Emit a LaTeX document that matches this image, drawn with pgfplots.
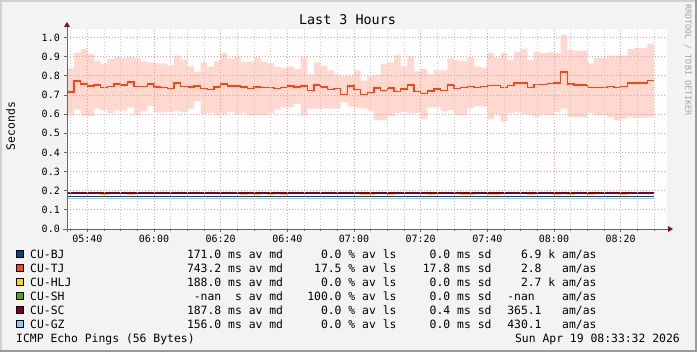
\documentclass[border=0pt]{standalone}
\usepackage{fontspec}
\setmainfont{DejaVu Sans}
\newfontfamily\mono{DejaVu Sans Mono}
\usepackage{pgfplots}
\pgfplotsset{compat=1.18}
\usepackage{pgfplotstable}

\definecolor{bjc}{HTML}{004586}
\definecolor{tjc}{HTML}{FF420E}
\definecolor{hljc}{HTML}{FFD320}
\definecolor{shc}{HTML}{579D1C}
\definecolor{scc}{HTML}{7E0021}
\definecolor{gzc}{HTML}{83CAFF}
\definecolor{smoke}{HTML}{FFD9CF}
\definecolor{bgc}{HTML}{F3F3F3}
\definecolor{frl}{HTML}{D0D0D0}
\definecolor{frd}{HTML}{9A9A9A}
\definecolor{mgrid}{HTML}{F09898}
\definecolor{ngrid}{HTML}{C8C8C8}
\definecolor{axc}{HTML}{666666}
\definecolor{arrc}{HTML}{8C1010}

\newcommand\lgf{\mono\fontsize{11.4bp}{13bp}\selectfont}
\newcommand\tkf{\mono\fontsize{10bp}{12bp}\selectfont}
\newcommand\amas{am/as}

\pgfplotstableread{
t med hi lo
33.9 0.715 0.839 0.593
36 0.772 0.918 0.623
38 0.758 0.939 0.591
40 0.747 0.914 0.591
42 0.753 0.877 0.628
44 0.739 0.863 0.619
46 0.744 0.888 0.605
48 0.756 0.898 0.618
50 0.753 0.895 0.618
52 0.767 0.898 0.635
54 0.744 0.893 0.593
56 0.744 0.875 0.614
58 0.756 0.870 0.642
60 0.742 0.865 0.609
62 0.739 0.865 0.609
64 0.733 0.854 0.611
66 0.761 0.905 0.616
68 0.744 0.884 0.609
70 0.740 0.849 0.628
72 0.747 0.819 0.668
74 0.733 0.870 0.600
76 0.728 0.846 0.605
78 0.740 0.877 0.596
80 0.758 0.918 0.600
82 0.747 0.888 0.611
84 0.747 0.902 0.600
86 0.742 0.870 0.607
88 0.733 0.874 0.593
90 0.742 0.898 0.596
92 0.739 0.874 0.596
94 0.739 0.865 0.605
96 0.733 0.846 0.623
98 0.739 0.842 0.635
100 0.747 0.849 0.635
102 0.742 0.835 0.653
104 0.747 0.902 0.593
106 0.723 0.807 0.628
108 0.753 0.870 0.628
110 0.742 0.851 0.628
112 0.728 0.828 0.628
114 0.733 0.807 0.628
116 0.702 0.798 0.661
118 0.747 0.800 0.639
120 0.728 0.828 0.632
122 0.702 0.775 0.628
124 0.712 0.802 0.618
126 0.737 0.802 0.568
128 0.723 0.860 0.568
130 0.737 0.870 0.588
132 0.718 0.907 0.605
134 0.732 0.849 0.611
136 0.753 0.902 0.602
138 0.718 0.823 0.607
140 0.707 0.835 0.572
142 0.721 0.807 0.635
144 0.732 0.828 0.635
146 0.723 0.828 0.614
148 0.753 0.891 0.621
150 0.733 0.881 0.593
152 0.739 0.877 0.596
154 0.744 0.896 0.630
156 0.739 0.849 0.642
158 0.744 0.842 0.639
160 0.749 0.918 0.575
162 0.749 0.895 0.600
164 0.739 0.918 0.561
166 0.749 0.882 0.605
168 0.763 0.923 0.609
170 0.763 0.939 0.600
172 0.739 0.882 0.596
174 0.754 0.923 0.586
176 0.754 0.918 0.596
178 0.760 0.923 0.595
180 0.763 0.918 0.611
182 0.821 1.015 0.628
184 0.758 0.935 0.584
186 0.753 0.930 0.584
188 0.753 0.930 0.584
190 0.739 0.865 0.605
192 0.739 0.893 0.593
194 0.739 0.893 0.593
196 0.744 0.905 0.584
198 0.739 0.905 0.567
200 0.744 0.905 0.575
202 0.763 0.939 0.584
204 0.763 0.944 0.579
206 0.763 0.944 0.581
208 0.775 0.965 0.586
210 0.775 0.965 0.586
}\tjdata

\pgfplotstableread{
t v
33.9 0.189
44 0.182
46 0.189
52 0.182
54 0.189
86 0.182
88 0.189
90 0.182
92 0.189
94 0.182
96 0.189
98 0.182
100 0.189
122 0.182
126 0.189
130 0.182
132 0.189
142 0.182
144 0.189
152 0.182
156 0.189
160 0.182
164 0.189
172 0.182
174 0.189
180 0.182
182 0.189
184 0.182
186 0.189
190 0.182
192 0.189
200 0.182
202 0.189
210 0.189
}\hljdata

\begin{document}
\begin{tikzpicture}
\useasboundingbox (0bp,0bp) rectangle (697bp,352bp);
\begin{scope}[x=1bp,y=1bp]
\fill[bgc] (0,0) rectangle (697,352);
\fill[frl] (0,0) rectangle (2,352);
\fill[frl] (0,350) rectangle (697,352);
\fill[frd] (0,0) rectangle (697,2);
\fill[frd] (695,0) rectangle (697,352);
\end{scope}

\begin{axis}[
  at={(67bp,123bp)}, anchor=south west,
  scale only axis, width=600bp, height=200bp,
  xmin=33.9, xmax=213.9, ymin=0, ymax=1.0444,
  axis on top,
  axis background/.style={fill=white},
  axis line style={draw=none},
  xtick={40,60,80,100,120,140,160,180,200},
  xticklabels={05:40,06:00,06:20,06:40,07:00,07:20,07:40,08:00,08:20},
  minor xtick={35,45,50,55,65,70,75,85,90,95,105,110,115,125,130,135,145,150,155,165,170,175,185,190,195,205,210},
  ytick={0,0.1,0.2,0.3,0.4,0.5,0.6,0.7,0.8,0.9,1.0},
  yticklabels={0.0,0.1,0.2,0.3,0.4,0.5,0.6,0.7,0.8,0.9,1.0},
  xmajorgrids, ymajorgrids, xminorgrids,
  major grid style={mgrid, line width=0.8bp, dash pattern=on 1bp off 2bp},
  minor grid style={ngrid, line width=0.8bp, dash pattern=on 1bp off 2bp},
  tick style={axc, line width=0.8bp},
  tick align=outside,
  major tick length=3bp, minor tick length=2bp,
  xtick pos=bottom, ytick pos=left,
  xticklabel style={font=\tkf, inner sep=0pt, anchor=north, yshift=-2.5bp},
  yticklabel style={font=\tkf, inner sep=0pt, anchor=east, xshift=-4bp},
]
\addplot[const plot, fill=smoke, draw=none] table[x=t,y=hi] {\tjdata} \closedcycle;
\addplot[const plot, fill=white, draw=none] table[x=t,y=lo] {\tjdata} \closedcycle;
\addplot[const plot, tjc, line width=1.6bp] table[x=t,y=med] {\tjdata};
\addplot[const plot, bjc, line width=1.1bp] coordinates {(33.9,0.170) (210,0.170)};
\addplot[const plot, hljc, line width=1.3bp] table[x=t,y=v] {\hljdata};
\addplot[const plot, scc, line width=1.8bp] coordinates {(33.9,0.1885) (210,0.1885)};
\addplot[const plot, gzc, line width=1.1bp] coordinates {(33.9,0.157) (210,0.157)};
\end{axis}

\begin{scope}[x=1bp,y=1bp]
\draw[axc, line width=0.9bp] (63,123) -- (669,123);
\draw[axc, line width=0.9bp] (67,120) -- (67,327);
\fill[arrc] (668,120) -- (673,123) -- (668,126) -- cycle;
\fill[arrc] (64,325) -- (67,330) -- (70,325) -- cycle;
\node[anchor=base, inner sep=0pt] at (347.5,328) {\mono\fontsize{13.4bp}{15bp}\selectfont Last 3 Hours};
\node[rotate=90, inner sep=0pt] at (10.5,226) {\lgf Seconds};
\node[rotate=-90, inner sep=0pt, text={rgb,255:red,165;green,165;blue,165}] at (688,292) {\mono\fontsize{8.4bp}{10bp}\selectfont RRDTOOL / TOBI OETIKER};
\foreach \c/\yy in {bjc/94, tjc/80, hljc/66, shc/52, scc/38, gzc/24}{
  \filldraw[fill=\c, draw=black, line width=0.8bp] (16.4,\yy+0.4) rectangle (23.6,\yy+7.6);
}
\foreach \nm/\a/\b/\cc/\d/\yy in {
  CU-BJ/171.0 ms av md/0.0 \% av ls/0.0 ms sd/6.9 k \amas/94,
  CU-TJ/743.2 ms av md/17.5 \% av ls/17.8 ms sd/2.8\ \ \ \amas/80,
  CU-HLJ/188.0 ms av md/0.0 \% av ls/0.0 ms sd/2.7 k \amas/66,
  CU-SH/-nan\ \ s av md/100.0 \% av ls/0.0 ms sd/-nan\ \ \ \ \amas/52,
  CU-SC/187.8 ms av md/0.0 \% av ls/0.4 ms sd/365.1\ \ \ \amas/38,
  CU-GZ/156.0 ms av md/0.0 \% av ls/0.0 ms sd/430.1\ \ \ \amas/24}{
  \node[anchor=base west, inner sep=0pt] at (30,\yy) {\lgf \nm};
  \node[anchor=base east, inner sep=0pt] at (283.3,\yy) {\lgf \a};
  \node[anchor=base east, inner sep=0pt] at (396.7,\yy) {\lgf \b};
  \node[anchor=base east, inner sep=0pt] at (491.7,\yy) {\lgf \cc};
  \node[anchor=base east, inner sep=0pt] at (596.7,\yy) {\lgf \d};
}
\node[anchor=base west, inner sep=0pt] at (16,10) {\lgf ICMP Echo Pings (56 Bytes)};
\node[anchor=base east, inner sep=0pt] at (680,10) {\lgf Sun Apr 19 08:33:32 2026};
\end{scope}
\end{tikzpicture}
\end{document}
